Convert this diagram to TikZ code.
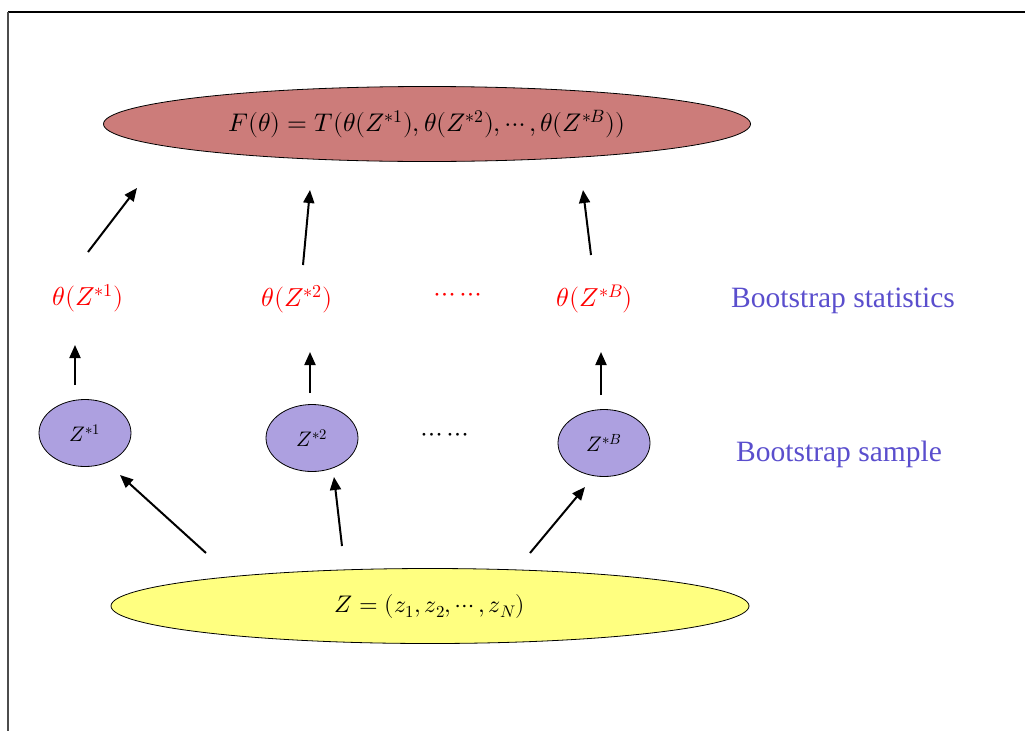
\documentclass[tikz,border=0pt]{standalone}
\usepackage{fontspec}
\usepackage{unicode-math}
\setmainfont{Liberation Serif}
\setmathfont{Latin Modern Math}
\usetikzlibrary{arrows.meta,shapes.geometric}
\definecolor{topfill}{RGB}{204,124,122}
\definecolor{smallfill}{RGB}{173,160,224}
\definecolor{botfill}{RGB}{255,255,128}
\definecolor{lblblue}{RGB}{90,78,205}
\tikzset{
  big/.style={ellipse, draw=black, line width=0.8pt, inner sep=0pt},
  small/.style={ellipse, draw=black, line width=0.8pt, fill=smallfill, minimum width=92pt, minimum height=67pt, inner sep=0pt, font=\fontsize{21}{24}\selectfont},
  stat/.style={text=red, inner sep=0pt, font=\fontsize{26}{30}\selectfont},
  side/.style={text=lblblue, font=\fontsize{29.5}{32}\selectfont, inner sep=0pt},
  arr/.style={-{Triangle[length=13pt,width=11pt]}, line width=2pt, black},
}
\begin{document}
\begin{tikzpicture}[x=1pt,y=-1pt]
\useasboundingbox (0,0) rectangle (1025,731);
% frame
\draw[line width=2.5pt] (8,12) -- (1025,12);
\draw[line width=1.2pt, black!70] (8,12) -- (8,731);
% top ellipse
\node[big, fill=topfill, minimum width=647pt, minimum height=75pt, font=\fontsize{25.5}{29}\selectfont] (F) at (427,124)
  {$F(\theta)=T(\theta(Z^{*1}),\theta(Z^{*2}),\cdots,\theta(Z^{*B}))$};
% statistics
\node[stat] (t1) at (88,298) {$\theta(Z^{*1})$};
\node[stat] (t2) at (297,299) {$\theta(Z^{*2})$};
\node[stat, font=\fontsize{27}{30}\selectfont] (td) at (458,297) {$\cdots\cdots$};
\node[stat] (tB) at (595,299) {$\theta(Z^{*B})$};
\node[side, anchor=west] (ls) at (731,301) {Bootstrap statistics};
% samples
\node[small] (s1) at (85,433) {$Z^{*1}$};
\node[small] (s2) at (312,438) {$Z^{*2}$};
\node[font=\fontsize{27}{30}\selectfont] (sd) at (445,437) {$\cdots\cdots$};
\node[small] (sB) at (604,443) {$Z^{*B}$};
\node[side, anchor=west] (lb) at (736,454) {Bootstrap sample};
% bottom ellipse
\node[big, fill=botfill, minimum width=638pt, minimum height=75pt, font=\fontsize{24}{28}\selectfont] (Z) at (430,606)
  {$Z=(z_1,z_2,\cdots,z_N)$};
% arrow coordinates
\coordinate (a1s) at (88,252);  \coordinate (a1e) at (137,188);
\coordinate (a2s) at (303,265); \coordinate (a2e) at (310,190);
\coordinate (a3s) at (591,255); \coordinate (a3e) at (583,190);
\coordinate (b1s) at (75,385);  \coordinate (b1e) at (75,345);
\coordinate (b2s) at (310,393); \coordinate (b2e) at (310,352);
\coordinate (b3s) at (601,395); \coordinate (b3e) at (601,352);
\coordinate (c1s) at (206,553); \coordinate (c1e) at (120,475);
\coordinate (c2s) at (342,546); \coordinate (c2e) at (334,477);
\coordinate (c3s) at (530,553); \coordinate (c3e) at (585,487);
\foreach \p in {a1,a2,a3,b1,b2,b3,c1,c2,c3}
  \draw[arr] (\p s) -- (\p e);
\end{tikzpicture}
\end{document}
